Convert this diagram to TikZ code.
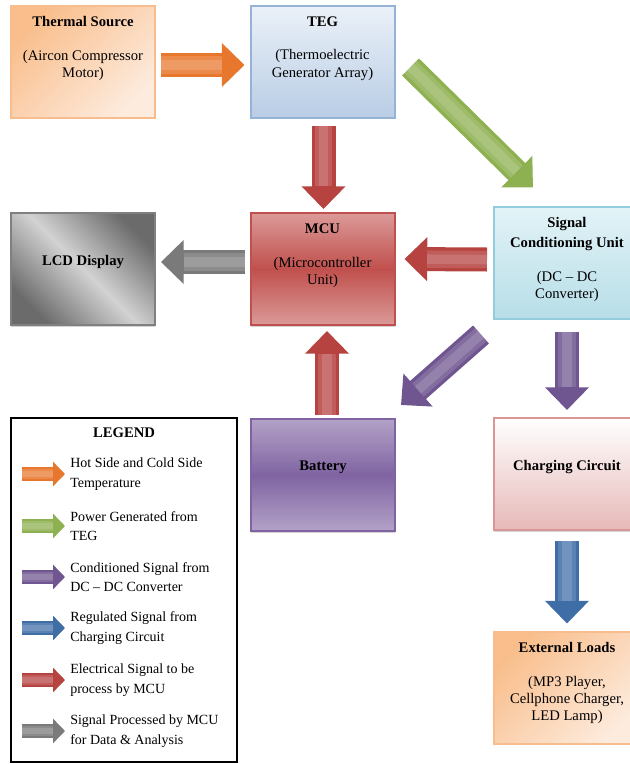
\documentclass[tikz,border=0pt]{standalone}
\usepackage{fontspec}
\setmainfont{Liberation Serif}
\usetikzlibrary{arrows.meta,positioning,calc,shadows}
% box colours
\definecolor{peach}{HTML}{F9BE8C}
\definecolor{peachlite}{HTML}{FDEBDD}
\definecolor{peachline}{HTML}{F8BD8E}
\definecolor{tegtop}{HTML}{EBF1F8}
\definecolor{tegbot}{HTML}{B9CDE5}
\definecolor{tegline}{HTML}{95B3D7}
\definecolor{mcuedge}{HTML}{DB9A98}
\definecolor{mcumid}{HTML}{C0504D}
\definecolor{lcddark}{HTML}{6B6B6B}
\definecolor{lcdlite}{HTML}{D2D2D2}
\definecolor{scutop}{HTML}{E3F3F7}
\definecolor{scubot}{HTML}{B7DEE8}
\definecolor{sculine}{HTML}{93CDDD}
\definecolor{batedge}{HTML}{B3A2C7}
\definecolor{batmid}{HTML}{8064A2}
\definecolor{chgbot}{HTML}{E6B9B8}
\definecolor{chgline}{HTML}{D99694}
% arrow colours
\definecolor{arrorange}{HTML}{E8772E}
\definecolor{arrgreen}{HTML}{8DB050}
\definecolor{arrred}{HTML}{B6433F}
\definecolor{arrpurple}{HTML}{6F5690}
\definecolor{arrblue}{HTML}{3F6EA7}
\definecolor{arrgray}{HTML}{7A7A7A}

\begin{document}
\begin{tikzpicture}[
  x=0.75pt, y=-0.75pt,
  box/.style={rectangle, line width=1.5pt, minimum width=108pt, minimum height=84pt, inner sep=0pt,
    drop shadow={shadow xshift=0pt, shadow yshift=-1.2pt, opacity=0.35}},
  widebox/.style={box, minimum width=109.5pt},
  peachbox/.style={top color=peach, bottom color=peachlite, shading angle=45, draw=peachline},
  boxtext/.style={align=center, inner sep=0pt, font=\fontsize{11}{13}\selectfont},
  legtext/.style={anchor=west, align=left, inner sep=0pt, font=\fontsize{10.5}{14.5}\selectfont},
  bigarrow/.style={line width=18pt, -{Triangle[length=17pt, width=32pt]},
    postaction={draw=white, draw opacity=0.14, arrows=-, line width=13pt, shorten >=17pt},
    postaction={draw=white, draw opacity=0.14, arrows=-, line width=7pt, shorten >=17pt}},
  legarrow/.style={line width=11pt, -{Triangle[length=9pt, width=18pt]},
    postaction={draw=white, draw opacity=0.14, arrows=-, line width=8pt, shorten >=9pt},
    postaction={draw=white, draw opacity=0.14, arrows=-, line width=4pt, shorten >=9pt}}
]
  \useasboundingbox (0,0) rectangle (629,764);

  % blocks
  \node[box, peachbox] (thermal) at (83,61.5) {};
  \node[box, top color=tegtop, bottom color=tegbot, draw=tegline] (teg) at (322.5,61.5) {};
  \node[box, top color=lcddark, bottom color=lcddark, middle color=lcdlite, shading angle=-45, draw=gray] (lcd) at (83,269) {};
  \node[box, top color=mcuedge, bottom color=mcuedge, middle color=mcumid, draw=mcumid] (mcu) at (322.5,269) {};
  \node[widebox, top color=scutop, bottom color=scubot, draw=sculine] (scu) at (567,262.5) {};
  \node[box, top color=batedge, bottom color=batedge, middle color=batmid, draw=batmid] (battery) at (323,475) {};
  \node[widebox, top color=white, bottom color=chgbot, draw=chgline] (charging) at (567,474) {};
  \node[widebox, peachbox] (loads) at (567,687.5) {};

  % block texts
  \node[boxtext, below=9pt of thermal.north] (thermal-t) {\textbf{Thermal Source}\\[12pt](Aircon Compressor\\Motor)};
  \node[boxtext, below=9pt of teg.north] (teg-t) {\textbf{TEG}\\[12pt](Thermoelectric\\Generator Array)};
  \node[boxtext, below=9pt of mcu.north] (mcu-t) {\textbf{MCU}\\[12pt](Microcontroller\\Unit)};
  \node[boxtext, below=9pt of scu.north] (scu-t) {\textbf{Signal}\\[2pt]\textbf{Conditioning Unit}\\[12pt](DC -- DC\\Converter)};
  \node[boxtext, below=9pt of loads.north] (loads-t) {\textbf{External Loads}\\[12pt](MP3 Player,\\Cellphone Charger,\\LED Lamp)};
  \node[boxtext] (lcd-t) at ($(lcd)+(0,-7)$) {\textbf{LCD Display}};
  \node[boxtext] (battery-t) at ($(battery)+(0,-8)$) {\textbf{Battery}};
  \node[boxtext] (charging-t) at ($(charging)+(0,-7)$) {\textbf{Charging Circuit}};

  % flows
  \draw[bigarrow, arrorange] ($(thermal.east)+(5,3.5)$) -- ($(teg.west)+(-5,3.5)$);
  \draw[bigarrow, arrred] ($(teg.south)+(1,7)$) -- ($(mcu.north)+(1,-3)$);
  \draw[bigarrow, arrgreen] ($(teg.east)+(15,5.5)$) -- ($(scu.north west)+(40,-18)$);
  \draw[bigarrow, arrgray] ($(mcu.west)+(-5,-7)$) -- ($(lcd.east)+(5,-7)$);
  \draw[bigarrow, arrred] ($(scu.west)+(-6,-3)$) -- ($(mcu.east)+(9,-10)$);
  \draw[bigarrow, arrpurple] ($(scu.south west)+(-12,15)$) -- ($(battery.north east)+(5,-13)$);
  \draw[bigarrow, arrpurple] ($(scu.south)+(0,12)$) -- ($(charging.north)+(0,-7)$);
  \draw[bigarrow, arrred] ($(battery.north)+(4,-3)$) -- ($(mcu.south)+(4.5,5)$);
  \draw[bigarrow, arrblue] ($(charging.south)+(0,10)$) -- ($(loads.north)+(0,-7)$);

  % legend
  \node[rectangle, draw=black, line width=1.5pt, fill=white, minimum width=169.5pt, minimum height=258pt] (legend) at (124,590) {};
  \node[boxtext, below=8pt of legend.north] (legend-t) {\textbf{LEGEND}};
  \node[legtext] (leg1) at (70,474) {Hot Side and Cold Side\\Temperature};
  \node[legtext] (leg2) at (70,526) {Power Generated from\\TEG};
  \node[legtext] (leg3) at (70,577) {Conditioned Signal from\\DC -- DC Converter};
  \node[legtext] (leg4) at (70,628) {Regulated Signal from\\Charging Circuit};
  \node[legtext] (leg5) at (70,680) {Electrical Signal to be\\process by MCU};
  \node[legtext] (leg6) at (70,731) {Signal Processed by MCU\\for Data \& Analysis};
  \draw[legarrow, arrorange] ($(leg1.west)+(-48,0)$) -- ($(leg1.west)+(-5,0)$);
  \draw[legarrow, arrgreen] ($(leg2.west)+(-48,0)$) -- ($(leg2.west)+(-5,0)$);
  \draw[legarrow, arrpurple] ($(leg3.west)+(-48,0)$) -- ($(leg3.west)+(-5,0)$);
  \draw[legarrow, arrblue] ($(leg4.west)+(-48,0)$) -- ($(leg4.west)+(-5,0)$);
  \draw[legarrow, arrred] ($(leg5.west)+(-48,0)$) -- ($(leg5.west)+(-5,0)$);
  \draw[legarrow, arrgray] ($(leg6.west)+(-48,0)$) -- ($(leg6.west)+(-5,0)$);
\end{tikzpicture}
\end{document}
